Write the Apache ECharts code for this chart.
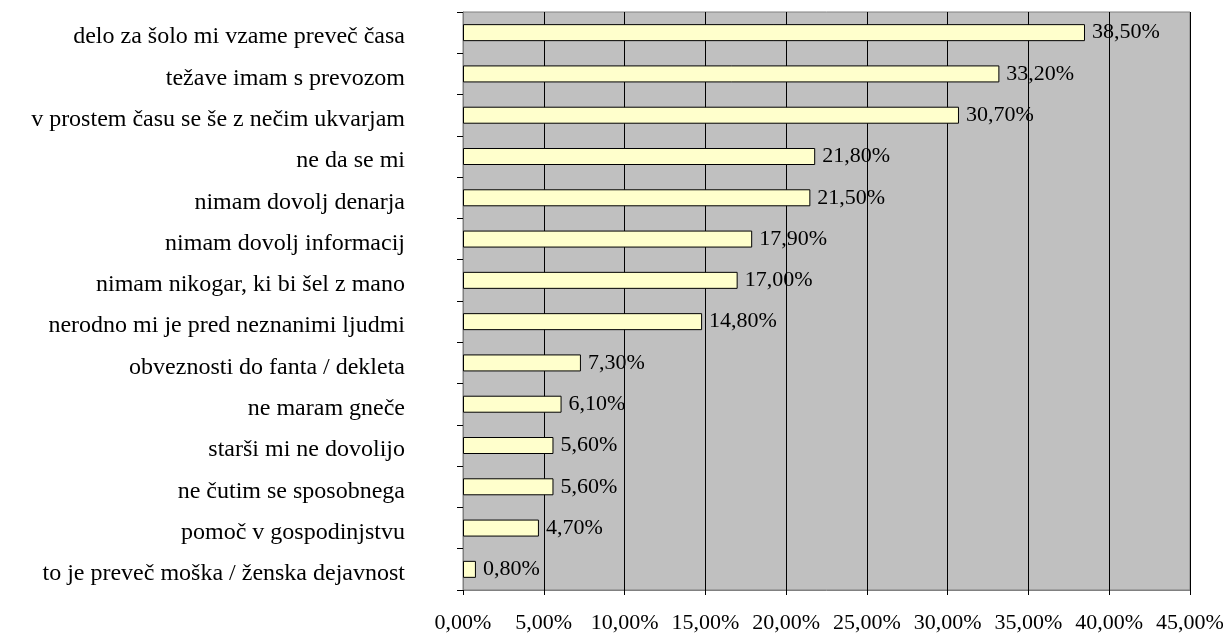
<!DOCTYPE html>
<html><head><meta charset="utf-8">
<script src="https://cdn.jsdelivr.net/npm/echarts@6/dist/echarts.min.js"></script>
<style>html,body{margin:0;padding:0;background:#fff}#c{width:1223px;height:633px}</style>
</head><body><div id="c"></div>
<script>
const categories = [
  "delo za šolo mi vzame preveč časa",
  "težave imam s prevozom",
  "v prostem času se še z nečim ukvarjam",
  "ne da se mi",
  "nimam dovolj denarja",
  "nimam dovolj informacij",
  "nimam nikogar, ki bi šel z mano",
  "nerodno mi je pred neznanimi ljudmi",
  "obveznosti do fanta / dekleta",
  "ne maram gneče",
  "starši mi ne dovolijo",
  "ne čutim se sposobnega",
  "pomoč v gospodinjstvu",
  "to je preveč moška / ženska dejavnost"
];
const values = [38.5, 33.2, 30.7, 21.8, 21.5, 17.9, 17.0, 14.8, 7.3, 6.1, 5.6, 5.6, 4.7, 0.8];
const fmt = v => v.toFixed(2).replace('.', ',') + '%';
const FONT = '"Liberation Serif", "Times New Roman", serif';
const chart = echarts.init(document.getElementById('c'));
chart.setOption({
  animation: false,
  grid: {left: 463, right: 33, top: 12, bottom: 43, outerBoundsMode: 'none', containLabel: false, show: true, backgroundColor: '#C0C0C0', borderColor: '#808080', borderWidth: 1},
  xAxis: {
    type: 'value', min: 0, max: 45, interval: 5,
    axisLine: {show: true, lineStyle: {color: '#808080'}},
    axisTick: {show: true, length: 5, lineStyle: {color: '#000'}},
    splitLine: {show: true, lineStyle: {color: '#000', width: 1}},
    axisLabel: {formatter: fmt, color: '#000', fontFamily: FONT, fontSize: 22, margin: 22}
  },
  yAxis: {
    type: 'category', data: categories, inverse: true,
    axisLine: {show: true, lineStyle: {color: '#808080'}},
    axisTick: {show: true, length: 6, lineStyle: {color: '#000'}},
    axisLabel: {color: '#000', fontFamily: FONT, fontSize: 24, margin: 58, verticalAlign: 'top', lineHeight: 9}
  },
  series: [{
    type: 'bar', data: values, barWidth: 17,
    itemStyle: {color: '#FFFFCC', borderColor: '#000', borderWidth: 1},
    label: {show: true, position: 'right', distance: 7, formatter: p => fmt(p.value), color: '#000', fontFamily: FONT, fontSize: 22}
  }]
});
</script></body></html>
